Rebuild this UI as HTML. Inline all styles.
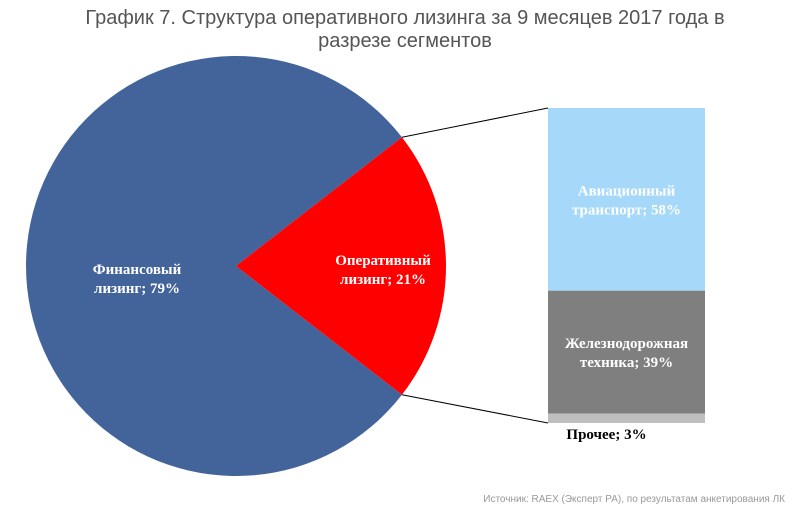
<!DOCTYPE html>
<html><head><meta charset="utf-8"><style>
body{margin:0;background:#fff;width:800px;height:520px;overflow:hidden}
svg text{font-family:"Liberation Sans",sans-serif}
.lbl{font-family:"Liberation Serif",serif !important;font-weight:bold;font-size:15px}
</style></head><body>
<svg id="c" width="800" height="520">
<text x="405" y="24" text-anchor="middle" font-size="20" fill="#555">График 7. Структура оперативного лизинга за 9 месяцев 2017 года в</text>
<text x="405" y="47" text-anchor="middle" font-size="20" fill="#555">разрезе сегментов</text>
<text x="785" y="502" text-anchor="end" font-size="10" fill="#999">Источник: RAEX (Эксперт РА), по результатам анкетирования ЛК</text>
</svg>
<script>
const pieLabels=["Финансовый лизинг","Оперативный лизинг"];
const pieValues=[79,21];
const barLabels=["Авиационный транспорт","Железнодорожная техника","Прочее"];
const barValues=[58,39,3];
const svg=document.getElementById('c');const NS="http://www.w3.org/2000/svg";
function mk(t,a){const e=document.createElementNS(NS,t);for(const k in a)e.setAttribute(k,a[k]);svg.appendChild(e);return e;}
const cx=236,cy=266,r=210;
const tot=pieValues[0]+pieValues[1];
const half=pieValues[1]/tot*Math.PI;
function pt(a){return [cx+r*Math.cos(a),cy+r*Math.sin(a)];}
const [x1,y1]=pt(-half),[x2,y2]=pt(half);
const big=pieValues[0]/tot>0.5?1:0;
const s0=mk('path',{d:`M${cx},${cy}L${x2},${y2}A${r},${r} 0 ${big} 1 ${x1},${y1}Z`,fill:'#43649b'});


const s1=mk('path',{d:`M${cx},${cy}L${x1},${y1}A${r},${r} 0 ${1-big} 1 ${x2},${y2}Z`,fill:'#ff0000'});


function lbl(x,y,lines,fill,name){const t=mk('text',{x:x,y:y,'text-anchor':'middle',fill:fill,class:'lbl'});


lines.forEach((l,i)=>{const ts=document.createElementNS(NS,'tspan');ts.setAttribute('x',x);ts.setAttribute('dy',i?19:0);ts.textContent=l;t.appendChild(ts);});}
const w0=pieLabels[0].split(' '),w1=pieLabels[1].split(' ');
lbl(137,274,[w0[0],w0[1].toLowerCase()+"; "+pieValues[0]+"%"],'#fff','label-financial');
lbl(383,265,[w1[0],w1[1].toLowerCase()+"; "+pieValues[1]+"%"],'#fff','label-operating');
const bx=548,bw=157,bt=108,bb=423;
const cols=['#a6d8fa','#7f7f7f','#bfbfbf'];
const ls=mk('line',{x1:x1,y1:y1,x2:bx,y2:bt,stroke:'#000','stroke-width':1});


const lb=mk('line',{x1:x2,y1:y2,x2:bx,y2:bb,stroke:'#000','stroke-width':1});


const bsum=barValues.reduce((a,b)=>a+b,0);let y=bt;
barValues.forEach((v,i)=>{const h=v/bsum*(bb-bt);const re=mk('rect',{x:bx,y:y,width:bw,height:h,fill:cols[i]});


const w=barLabels[i].split(' ');
if(i===0)lbl(bx+bw/2,y+h/2-4,[w[0],w[1]+"; "+v+"%"],'#fff','label-aviation');
else if(i===1)lbl(bx+bw/2,y+h/2-4,[w[0],w[1]+"; "+v+"%"],'#fff','label-railway');
else lbl(bx+bw/2-20,y+h+16,[w[0]+"; "+v+"%"],'#000','label-other');
y+=h;});
</script>
</body></html>
